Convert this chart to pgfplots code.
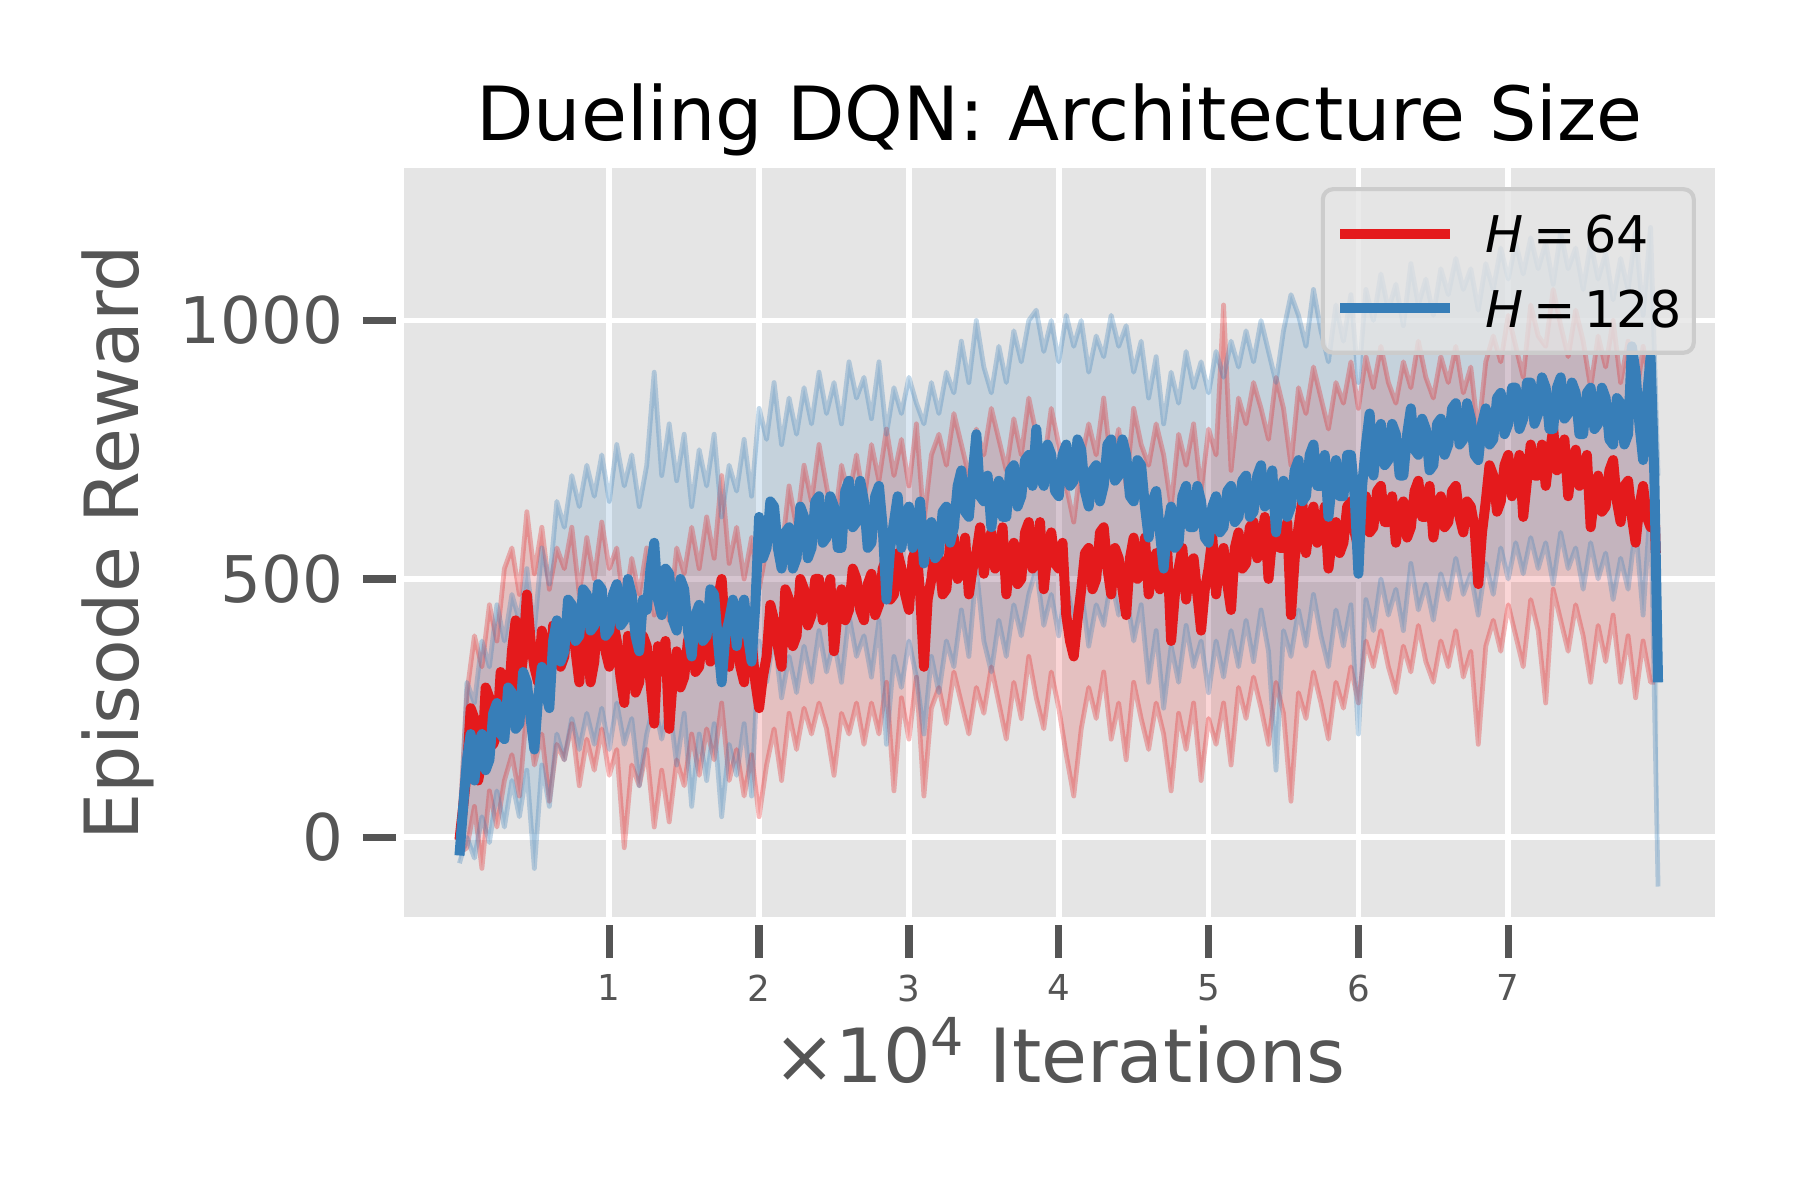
\documentclass[border=0pt]{standalone}
\usepackage{fontspec}
\setmainfont{DejaVu Sans}
\usepackage{pgfplots}
\usepgfplotslibrary{fillbetween}
\pgfplotsset{compat=1.18}
\usepackage{pgfplotstable}
\definecolor{c1}{HTML}{E41A1C}
\definecolor{c2}{HTML}{377EB8}
\definecolor{bg}{HTML}{E5E5E5}
\definecolor{tg}{HTML}{555555}
\definecolor{lb}{HTML}{CCCCCC}

% band edges (upper u, lower l) for H=64
\pgfplotstableread{
x u l
0.00 20 -30
0.05 280 -20
0.10 390 60
0.15 330 -60
0.20 450 90
0.25 380 20
0.30 520 110
0.35 560 160
0.40 470 80
0.45 630 250
0.50 510 140
0.55 600 200
0.60 480 70
0.65 560 180
0.70 520 150
0.75 600 220
0.80 470 100
0.85 580 190
0.90 500 130
0.95 610 210
1.00 520 120
1.05 560 170
1.10 440 -20
1.15 540 140
1.20 470 100
1.25 560 170
1.30 430 20
1.35 520 130
1.40 420 30
1.45 560 150
1.50 510 100
1.55 600 200
1.60 520 120
1.65 620 210
1.70 540 150
1.75 700 260
1.80 530 110
1.85 600 170
1.90 500 80
1.95 580 160
2.00 480 40
2.05 560 140
2.10 640 210
2.15 550 110
2.20 680 240
2.25 600 170
2.30 720 250
2.35 650 200
2.40 760 260
2.45 680 210
2.50 600 120
2.55 720 240
2.60 660 200
2.65 740 260
2.70 650 180
2.75 760 260
2.80 690 200
2.85 790 300
2.90 700 90
2.95 770 270
3.00 680 190
3.05 800 310
3.10 610 80
3.15 740 250
3.20 780 290
3.25 720 220
3.30 820 320
3.35 760 260
3.40 700 200
3.45 790 290
3.50 740 240
3.55 830 330
3.60 770 260
3.65 710 190
3.70 810 300
3.75 740 230
3.80 850 350
3.85 780 270
3.90 720 210
3.95 830 320
4.00 760 250
4.05 680 160
4.10 610 80
4.15 730 210
4.20 800 290
4.25 740 230
4.30 850 320
4.35 720 190
4.40 790 260
4.45 680 150
4.50 830 300
4.55 760 230
4.60 720 170
4.65 800 260
4.70 740 200
4.75 640 90
4.80 780 240
4.85 720 170
4.90 800 260
4.95 670 110
5.00 790 230
5.05 740 180
5.10 1030 260
5.15 710 140
5.20 850 290
5.25 800 230
5.30 880 310
5.35 830 250
5.40 770 180
5.45 890 300
5.50 830 240
5.55 720 70
5.60 870 280
5.65 820 230
5.70 910 320
5.75 850 260
5.80 790 190
5.85 880 300
5.90 840 250
5.95 920 330
6.00 830 260
6.05 930 380
6.10 870 330
6.15 950 400
6.20 880 330
6.25 840 280
6.30 920 370
6.35 870 320
6.40 960 410
6.45 890 340
6.50 850 300
6.55 930 380
6.60 880 330
6.65 950 400
6.70 860 310
6.75 910 360
6.80 780 180
6.85 920 370
6.90 970 420
6.95 920 360
7.00 1010 450
7.05 950 390
7.10 890 330
7.15 1030 460
7.20 970 400
7.25 950 260
7.30 1060 480
7.35 990 420
7.40 930 360
7.45 1020 450
7.50 960 390
7.55 870 300
7.60 970 410
7.65 910 340
7.70 1000 430
7.75 880 300
7.80 960 390
7.85 840 270
7.90 950 380
7.95 870 300
7.98 820 300
}\redband

% mean for H=64
\pgfplotstableread{
x m
0.000 -5
0.025 60
0.050 130
0.075 250
0.100 230
0.125 110
0.150 150
0.175 290
0.200 270
0.225 180
0.250 200
0.275 320
0.300 300
0.325 250
0.350 360
0.375 420
0.400 290
0.425 350
0.450 470
0.475 380
0.500 330
0.525 300
0.550 400
0.575 350
0.600 280
0.625 410
0.650 380
0.675 330
0.700 350
0.725 440
0.750 420
0.775 360
0.800 300
0.825 410
0.850 390
0.875 300
0.900 340
0.925 450
0.950 420
0.975 360
1.000 330
1.025 420
1.050 380
1.075 310
1.100 260
1.125 390
1.150 350
1.175 280
1.200 300
1.225 390
1.250 370
1.275 300
1.300 220
1.325 370
1.350 330
1.375 380
1.400 210
1.425 310
1.450 360
1.475 290
1.500 310
1.525 380
1.550 400
1.575 320
1.600 330
1.625 400
1.650 420
1.675 340
1.700 350
1.725 460
1.750 500
1.775 390
1.800 330
1.825 420
1.850 390
1.875 330
1.900 300
1.925 400
1.950 380
1.975 300
2.000 250
2.025 310
2.050 350
2.075 450
2.100 420
2.125 370
2.150 330
2.175 480
2.200 460
2.225 370
2.250 390
2.275 500
2.300 480
2.325 410
2.350 430
2.375 500
2.400 500
2.425 420
2.450 450
2.475 500
2.500 360
2.525 440
2.550 480
2.575 420
2.600 440
2.625 520
2.650 500
2.675 440
2.700 420
2.725 490
2.750 510
2.775 430
2.800 450
2.825 520
2.850 540
2.875 460
2.900 470
2.925 550
2.950 520
2.975 470
3.000 440
3.025 540
3.050 560
3.075 470
3.100 330
3.125 460
3.150 500
3.175 560
3.200 540
3.225 470
3.250 480
3.275 570
3.300 580
3.325 500
3.350 520
3.375 580
3.400 470
3.425 520
3.450 550
3.475 600
3.500 510
3.525 560
3.550 590
3.575 520
3.600 530
3.625 600
3.650 470
3.675 540
3.700 570
3.725 490
3.750 500
3.775 590
3.800 610
3.825 520
3.850 540
3.875 610
3.900 480
3.925 550
3.950 590
3.975 530
4.000 520
4.025 570
4.050 430
4.075 380
4.100 350
4.125 420
4.150 480
4.175 550
4.200 560
4.225 480
4.250 500
4.275 590
4.300 600
4.325 520
4.350 470
4.375 560
4.400 540
4.425 480
4.450 430
4.475 540
4.500 580
4.525 500
4.550 510
4.575 580
4.600 470
4.625 520
4.650 550
4.675 480
4.700 490
4.725 550
4.750 380
4.775 470
4.800 520
4.825 560
4.850 460
4.875 530
4.900 540
4.925 470
4.950 400
4.975 480
5.000 520
5.025 580
5.050 470
5.075 540
5.100 560
5.125 490
5.150 440
5.175 560
5.200 590
5.225 520
5.250 530
5.275 600
5.300 610
5.325 540
5.350 560
5.375 620
5.400 500
5.425 580
5.450 620
5.475 560
5.500 560
5.525 610
5.550 430
5.575 540
5.600 600
5.625 650
5.650 550
5.675 610
5.700 640
5.725 570
5.750 580
5.775 640
5.800 520
5.825 580
5.850 610
5.875 550
5.900 570
5.925 640
5.950 650
5.975 590
6.000 560
6.025 620
6.050 660
6.075 590
6.100 600
6.125 670
6.150 680
6.175 610
6.200 610
6.225 660
6.250 570
6.275 630
6.300 650
6.325 580
6.350 600
6.375 670
6.400 690
6.425 620
6.450 620
6.475 680
6.500 580
6.525 630
6.550 660
6.575 600
6.600 610
6.625 670
6.650 680
6.675 620
6.700 590
6.725 650
6.750 640
6.775 600
6.800 490
6.825 590
6.850 650
6.875 720
6.900 700
6.925 630
6.950 650
6.975 720
7.000 740
7.025 660
7.050 680
7.075 740
7.100 620
7.125 690
7.150 760
7.175 700
7.200 700
7.225 760
7.250 680
7.275 740
7.300 790
7.325 710
7.350 720
7.375 770
7.400 660
7.425 720
7.450 750
7.475 680
7.500 690
7.525 740
7.550 600
7.575 660
7.600 700
7.625 630
7.650 640
7.675 710
7.700 730
7.725 650
7.750 610
7.775 680
7.800 690
7.825 620
7.850 570
7.875 640
7.900 680
7.925 620
7.950 600
7.975 650
7.985 550
}\redmean

% band edges (upper u, lower l) for H=128
\pgfplotstableread{
x u l
0.00 -20 -50
0.05 300 0
0.10 260 -40
0.15 380 40
0.20 330 -10
0.25 450 90
0.30 380 20
0.35 470 110
0.40 420 40
0.45 520 130
0.50 400 -60
0.55 560 140
0.60 490 60
0.65 650 200
0.70 600 150
0.75 700 230
0.80 640 170
0.85 720 240
0.90 660 180
0.95 740 250
1.00 650 170
1.05 760 260
1.10 680 180
1.15 740 230
1.20 640 100
1.25 720 200
1.30 900 260
1.35 700 190
1.40 800 260
1.45 690 140
1.50 780 240
1.55 640 60
1.60 750 200
1.65 680 110
1.70 780 220
1.75 620 40
1.80 720 180
1.85 670 120
1.90 770 220
1.95 660 80
2.00 830 380
2.05 770 300
2.10 880 390
2.15 760 270
2.20 850 350
2.25 780 280
2.30 870 370
2.35 800 300
2.40 900 400
2.45 820 320
2.50 880 380
2.55 800 300
2.60 920 430
2.65 850 350
2.70 890 390
2.75 810 310
2.80 920 420
2.85 780 180
2.90 870 350
2.95 820 290
3.00 890 380
3.05 840 310
3.10 800 200
3.15 880 350
3.20 820 280
3.25 900 380
3.30 860 330
3.35 960 440
3.40 880 350
3.45 1000 520
3.50 910 380
3.55 860 320
3.60 950 420
3.65 880 350
3.70 980 450
3.75 920 390
3.80 1000 470
3.85 1020 520
3.90 940 410
3.95 1000 470
4.00 920 390
4.05 1010 490
4.10 950 420
4.15 1000 480
4.20 900 370
4.25 970 450
4.30 930 410
4.35 1010 500
4.40 950 430
4.45 990 470
4.50 900 380
4.55 960 450
4.60 850 300
4.65 930 400
4.70 800 250
4.75 900 370
4.80 840 300
4.85 940 410
4.90 870 330
4.95 920 380
5.00 860 280
5.05 940 380
5.10 890 310
5.15 960 400
5.20 910 330
5.25 980 420
5.30 920 340
5.35 1000 440
5.40 940 360
5.45 880 130
5.50 980 400
5.55 1050 350
5.60 1010 440
5.65 950 370
5.70 1060 470
5.75 980 390
5.80 920 330
5.85 1030 440
5.90 960 370
5.95 1050 450
6.00 880 200
6.05 1060 460
6.10 1000 400
6.15 1090 500
6.20 1020 430
6.25 1070 480
6.30 990 400
6.35 1110 530
6.40 1030 440
6.45 1080 490
6.50 1010 420
6.55 1100 510
6.60 1050 460
6.65 1120 540
6.70 1060 470
6.75 1100 510
6.80 1020 430
6.85 1110 530
6.90 1060 470
6.95 1140 560
7.00 1080 500
7.05 1150 570
7.10 1090 510
7.15 1160 580
7.20 1100 520
7.25 1150 570
7.30 1070 490
7.35 1170 590
7.40 1100 520
7.45 1140 560
7.50 1060 480
7.55 1150 570
7.60 1080 500
7.65 1130 550
7.70 1040 460
7.75 1120 540
7.80 1060 480
7.85 1170 600
7.90 1010 430
7.95 1180 650
8.00 700 -95
}\blueband

% mean for H=128
\pgfplotstableread{
x m
0.000 -35
0.025 60
0.050 150
0.075 200
0.100 110
0.125 180
0.150 200
0.175 130
0.200 150
0.225 240
0.250 260
0.275 200
0.300 190
0.325 290
0.350 280
0.375 210
0.400 220
0.425 320
0.450 300
0.475 230
0.500 170
0.525 270
0.550 330
0.575 280
0.600 250
0.625 380
0.650 420
0.675 340
0.700 360
0.725 460
0.750 450
0.775 380
0.800 390
0.825 480
0.850 470
0.875 400
0.900 410
0.925 490
0.950 480
0.975 390
1.000 400
1.025 470
1.050 490
1.075 410
1.100 420
1.125 500
1.150 470
1.175 390
1.200 360
1.225 460
1.250 440
1.275 520
1.300 570
1.325 460
1.350 430
1.375 520
1.400 510
1.425 420
1.450 400
1.475 500
1.500 480
1.525 400
1.550 350
1.575 430
1.600 450
1.625 380
1.650 390
1.675 480
1.700 470
1.725 380
1.750 300
1.775 390
1.800 420
1.825 460
1.850 370
1.875 440
1.900 460
1.925 390
1.950 340
1.975 450
2.000 620
2.025 540
2.050 560
2.075 650
2.100 640
2.125 560
2.150 520
2.175 590
2.200 600
2.225 520
2.250 540
2.275 640
2.300 620
2.325 540
2.350 560
2.375 650
2.400 660
2.425 570
2.450 580
2.475 660
2.500 640
2.525 560
2.550 560
2.575 670
2.600 690
2.625 600
2.650 610
2.675 690
2.700 650
2.725 560
2.750 570
2.775 660
2.800 680
2.825 600
2.850 460
2.875 560
2.900 610
2.925 660
2.950 560
2.975 620
3.000 640
3.025 560
3.050 580
3.075 650
3.100 530
3.125 590
3.150 610
3.175 540
3.200 550
3.225 630
3.250 640
3.275 570
3.300 600
3.325 680
3.350 710
3.375 630
3.400 620
3.425 700
3.450 780
3.475 660
3.500 650
3.525 700
3.550 600
3.575 660
3.600 690
3.625 620
3.650 620
3.675 710
3.700 720
3.725 640
3.750 660
3.775 730
3.800 740
3.825 680
3.850 790
3.875 700
3.900 680
3.925 760
3.950 740
3.975 670
4.000 660
4.025 740
4.050 760
4.075 680
4.100 690
4.125 770
4.150 750
4.175 670
4.200 640
4.225 710
4.250 720
4.275 650
4.300 680
4.325 760
4.350 770
4.375 690
4.400 700
4.425 770
4.450 740
4.475 660
4.500 650
4.525 730
4.550 720
4.575 640
4.600 580
4.625 650
4.650 670
4.675 590
4.700 520
4.725 600
4.750 640
4.775 560
4.800 570
4.825 660
4.850 680
4.875 600
4.900 600
4.925 680
4.950 650
4.975 580
5.000 570
5.025 640
5.050 660
5.075 590
5.100 600
5.125 670
5.150 680
5.175 610
5.200 620
5.225 690
5.250 700
5.275 620
5.300 630
5.325 700
5.350 720
5.375 640
5.400 650
5.425 710
5.450 590
5.475 660
5.500 690
5.525 620
5.550 640
5.575 710
5.600 730
5.625 650
5.650 660
5.675 740
5.700 760
5.725 680
5.750 680
5.775 740
5.800 620
5.825 690
5.850 730
5.875 660
5.900 660
5.925 740
5.950 740
5.975 660
6.000 510
6.025 680
6.050 760
6.075 820
6.100 700
6.125 770
6.150 800
6.175 720
6.200 730
6.225 800
6.250 780
6.275 700
6.300 700
6.325 780
6.350 830
6.375 750
6.400 740
6.425 810
6.450 790
6.475 710
6.500 720
6.525 800
6.550 810
6.575 740
6.600 760
6.625 830
6.650 840
6.675 760
6.700 770
6.725 840
6.750 810
6.775 740
6.800 730
6.825 800
6.850 830
6.875 760
6.900 770
6.925 850
6.950 860
6.975 780
7.000 800
7.025 870
7.050 870
7.075 790
7.100 810
7.125 880
7.150 880
7.175 800
7.200 820
7.225 890
7.250 870
7.275 790
7.300 790
7.325 870
7.350 890
7.375 810
7.400 820
7.425 880
7.450 860
7.475 780
7.500 780
7.525 860
7.550 870
7.575 790
7.600 800
7.625 870
7.650 850
7.675 770
7.700 760
7.725 850
7.750 840
7.775 760
7.800 780
7.825 950
7.850 900
7.875 800
7.900 730
7.925 850
7.950 930
7.975 700
8.000 300
}\bluemean

\begin{document}
\begin{tikzpicture}
\begin{axis}[
  at={(1.3467in,0.9433in)}, anchor=south west,
  width=4.37in, height=2.4967in, scale only axis,
  xmin=-0.37, xmax=8.38, ymin=-154, ymax=1295,
  axis background/.style={fill=bg},
  axis x line*=bottom, axis y line*=left, axis line style={draw=none},
  grid=major, major grid style={white, line width=1.4pt},
  xtick={1,2,3,4,5,6,7}, xticklabels={1,2,3,4,5,6,7},
  ytick={0,500,1000}, yticklabels={0,500,1000},
  /pgf/number format/assume math mode=true,
  tick align=outside, major tick length=7.95pt,
  xtick style={yshift=-1.93pt, line width=1.8pt, tg},
  ytick style={xshift=-1.93pt, line width=1.8pt, tg},
  xticklabel style={font=\fontsize{8.6}{10}\selectfont, text=tg, inner sep=0pt, anchor=north},
  yticklabel style={font=\fontsize{15.5}{18}\selectfont, text=tg, inner sep=0pt, anchor=east},
  xticklabel shift=5.8pt, yticklabel shift=6.5pt,
  title={Dueling DQN: Architecture Size},
  title style={at={(axis description cs:0.5,1.004)}, anchor=base, font=\fontsize{18}{21}\selectfont, text=black, inner sep=0pt},
  xlabel={×10\textsuperscript{4} Iterations},
  xlabel style={at={(axis description cs:0.5,-0.2203)}, anchor=base, font=\fontsize{18}{21}\selectfont, text=tg, inner sep=0pt},
  ylabel={Episode Reward},
  ylabel style={at={(axis description cs:-0.2029,0.5)}, anchor=base, font=\fontsize{18}{21}\selectfont, text=tg, inner sep=0pt},
  legend cell align=left,
  legend image code/.code={\draw[#1, line width=2.4pt] (0pt,0pt) -- (26.5pt,0pt);},
  legend style={at={(axis description cs:1,1)}, anchor=north east, xshift=-4.6pt, yshift=-4.6pt,
    fill=bg, fill opacity=0.8, text opacity=1, draw=lb, line width=1pt, rounded corners=2.5pt,
    font=\fontsize{12.2}{14}\selectfont, text=black, inner xsep=3pt, inner ysep=6.2pt,
    row sep=8.9pt, nodes={inner sep=0pt, text depth=0pt},
    /tikz/every odd column/.append style={column sep=7.4pt}},
]
\addplot[c1, line width=1.15pt, draw opacity=0.3, line join=round, name path=ru, forget plot] table[x=x,y=u]{\redband};
\addplot[c1, line width=1.15pt, draw opacity=0.3, line join=round, name path=rl, forget plot] table[x=x,y=l]{\redband};
\addplot[fill=c1, fill opacity=0.18, draw=none, forget plot] fill between[of=ru and rl];
\addplot[c2, line width=1.15pt, draw opacity=0.3, line join=round, name path=bu, forget plot] table[x=x,y=u]{\blueband};
\addplot[c2, line width=1.15pt, draw opacity=0.3, line join=round, name path=bl, forget plot] table[x=x,y=l]{\blueband};
\addplot[fill=c2, fill opacity=0.18, draw=none, forget plot] fill between[of=bu and bl];
\addplot[c1, line width=2.4pt, line join=round] table[x=x,y=m]{\redmean};
\addlegendentry{\textit{H}\hspace{0.18em}=\hspace{0.18em}64}
\addplot[c2, line width=2.4pt, line join=round] table[x=x,y=m]{\bluemean};
\addlegendentry{\textit{H}\hspace{0.18em}=\hspace{0.18em}128}
\end{axis}
\path[use as bounding box] (0,0) rectangle (6in,4in);
\end{tikzpicture}
\end{document}
